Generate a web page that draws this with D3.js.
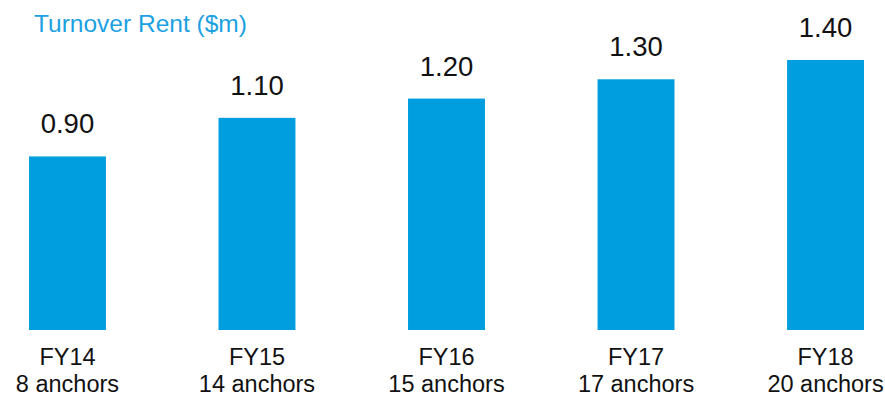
<!DOCTYPE html>
<html><head><meta charset="utf-8">
<script src="https://cdn.jsdelivr.net/npm/d3@7"></script>
<style>body{margin:0;background:#fff;}svg{display:block;font-family:"Liberation Sans",Arial,sans-serif;}</style>
</head><body>
<script>
const categories = ["FY14","FY15","FY16","FY17","FY18"];
const subLabels = ["8 anchors","14 anchors","15 anchors","17 anchors","20 anchors"];
const values = [0.90,1.10,1.20,1.30,1.40];
const valueLabels = ["0.90","1.10","1.20","1.30","1.40"];
const title = "Turnover Rent ($m)";

const W=885,H=396;
const svg=d3.select("body").append("svg").attr("width",W).attr("height",H);
const x=d3.scaleBand().domain(categories).range([-27.3,920.3]).paddingInner(0.594).paddingOuter(0.297);
const y=d3.scaleLinear().domain([0,1.4]).range([330,60]);

svg.append("text").attr("x",34).attr("y",32).attr("fill","#1ba1e2")
  .attr("font-size",24.5).text(title);

svg.selectAll("rect.bar").data(values).join("rect").attr("class","bar")
  .attr("x",(d,i)=>x(categories[i])).attr("width",x.bandwidth())
  .attr("y",d=>y(d)).attr("height",d=>y(0)-y(d)).attr("fill","#009ede");

svg.selectAll("text.val").data(values).join("text").attr("class","val")
  .attr("x",(d,i)=>x(categories[i])+x.bandwidth()/2).attr("y",d=>y(d)-23)
  .attr("text-anchor","middle").attr("font-size",27.5).attr("fill","#111")
  .text((d,i)=>valueLabels[i]);

const xa=svg.append("g").attr("transform","translate(0,330)")
  .call(d3.axisBottom(x).tickSize(0).tickPadding(0).tickFormat(""));
xa.select(".domain").remove();
xa.selectAll(".tick").each(function(d,i){
  const t=d3.select(this).append("text").attr("fill","#111").attr("font-size",23.5)
    .attr("text-anchor","middle").attr("font-family","Liberation Sans, Arial, sans-serif");
  t.append("tspan").attr("x",0).attr("y",35).text(d);
  t.append("tspan").attr("x",0).attr("y",62).text(subLabels[i]);
});
</script>
</body></html>
